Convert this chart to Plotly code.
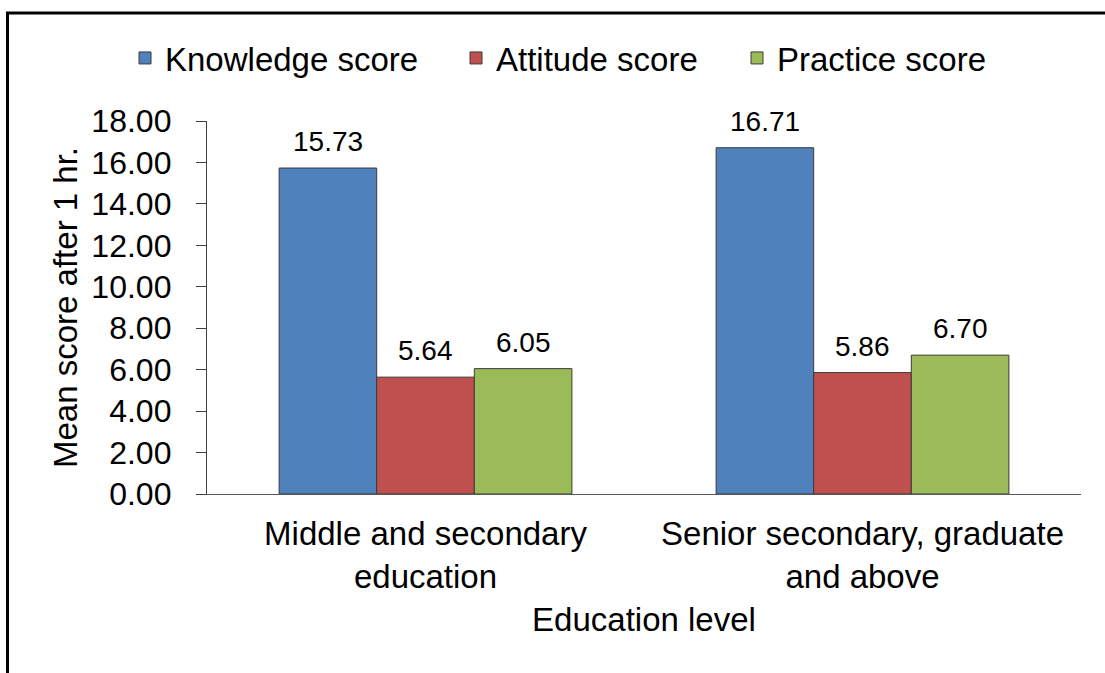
import plotly.graph_objects as go

# Education-level categories (two-line tick labels)
categories = ["Middle and secondary<br>education", "Senior secondary, graduate<br>and above"]

# Mean scores after 1 hr. per education level
knowledge = [15.73, 16.71]
attitude = [5.64, 5.86]
practice = [6.05, 6.70]

series = [
    ("Knowledge score", knowledge, "#4F81BD"),
    ("Attitude score", attitude, "#C0504D"),
    ("Practice score", practice, "#9BBB59"),
]

y_ticks = [0, 2, 4, 6, 8, 10, 12, 14, 16, 18]

FONT = "Liberation Sans, Arial, sans-serif"
BARGAP = 0.33
W, H = 1105, 673

# left edge (px) of each legend entry along the top row
legend_left_px = [125, 456, 737]
legend_ids = ["legend", "legend2", "legend3"]

fig = go.Figure()
for (name, values, color), lid in zip(series, legend_ids):
    fig.add_trace(go.Bar(
        name=name,
        x=categories,
        y=values,
        legend=lid,
        marker=dict(color=color, line=dict(color="#3a3a3a", width=1)),
    ))

# value labels above each bar, positioned in category units
bar_w = (1 - BARGAP) / len(series)
annotations = []
for j, (name, values, color) in enumerate(series):
    offset = (j - (len(series) - 1) / 2) * bar_w
    for i, v in enumerate(values):
        annotations.append(dict(
            x=i + offset, y=v, xref="x", yref="y",
            text=f"{v:.2f}", showarrow=False,
            yanchor="bottom", yshift=9,
            font=dict(family=FONT, size=28, color="#000000"),
        ))

legend_style = dict(
    orientation="h",
    xref="container", yref="container",
    xanchor="left", yanchor="middle",
    y=1 - 58 / H,
    font=dict(family=FONT, size=33, color="#000000"),
    bgcolor="rgba(0,0,0,0)",
)

fig.update_layout(
    width=W, height=H,
    margin=dict(l=207, r=24, t=121, b=179),
    paper_bgcolor="white", plot_bgcolor="white",
    barmode="group", bargap=BARGAP, bargroupgap=0,
    font=dict(family=FONT, size=33, color="#000000"),
    showlegend=True,
    legend=dict(legend_style, x=legend_left_px[0] / W),
    legend2=dict(legend_style, x=legend_left_px[1] / W),
    legend3=dict(legend_style, x=legend_left_px[2] / W),
    annotations=annotations,
    shapes=[dict(
        type="rect", xref="paper", yref="paper",
        x0=(7.5 - 207) / 874, x1=1.05,
        y0=-0.6, y1=(494 - 13) / 373,
        line=dict(color="#000000", width=3),
        fillcolor="rgba(0,0,0,0)",
        layer="above",
    )],
)

fig.update_xaxes(
    showline=True, linecolor="#595959", linewidth=1.3,
    ticks="", showgrid=False, zeroline=False,
    tickfont=dict(family=FONT, size=33, color="#000000"),
    ticklabelstandoff=10,
    title=dict(text="Education level", standoff=14,
               font=dict(family=FONT, size=33, color="#000000")),
)

fig.update_yaxes(
    range=[0, 18], tickvals=y_ticks, tickformat=".2f",
    showline=True, linecolor="#404040", linewidth=1.3,
    ticks="outside", ticklen=10, tickcolor="#404040", tickwidth=1.3,
    ticklabelstandoff=18,
    showgrid=False, zeroline=False,
    tickfont=dict(family=FONT, size=32, color="#000000"),
    title=dict(text="Mean score after 1 hr.", standoff=3,
               font=dict(family=FONT, size=33, color="#000000")),
)

fig.write_html("out.html")
